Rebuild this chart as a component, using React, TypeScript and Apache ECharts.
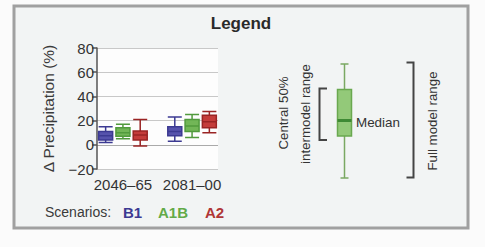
import React, { useEffect, useRef } from 'react';
import * as echarts from 'echarts';

const periods = ['2046–65', '2081–00'];
const scenarios = ['B1', 'A1B', 'A2'];
const scenarioColors = ['#5653ac', '#72b657', '#c43c3a'];
const scenarioBorders = ['#3c3a92', '#519a3d', '#9a2424'];
// [min, Q1, median, Q3, max] for B1, A1B, A2
const boxes2046 = [
  [2, 4, 7.5, 11, 15],
  [5, 7, 10, 14, 17],
  [-1, 4, 8, 11.5, 21],
];
const boxes2081 = [
  [3, 7.5, 11, 15, 23],
  [6, 11, 15.5, 21, 25],
  [10, 14, 19, 24.5, 27.5],
];
const yMin = -20;
const yMax = 80;
const yStep = 20;

const FONT = 'Arial, "Liberation Sans", sans-serif';

export default function App() {
  const ref = useRef<HTMLDivElement>(null);
  useEffect(() => {
    if (!ref.current) return;
    const chart = echarts.init(ref.current, null, { renderer: 'svg' });
    const groups = [boxes2046, boxes2081];
    const cats: string[] = [];
    const data: any[] = [];
    periods.forEach((p, pi) => {
      if (pi > 0) {
        cats.push('gap|');
        data.push({ value: ['-', '-', '-', '-', '-'] });
      }
      scenarios.forEach((s, si) => {
        cats.push(p + '|' + s);
        data.push({
          value: groups[pi][si],
          itemStyle: { color: scenarioColors[si], borderColor: scenarioBorders[si], borderWidth: 1.5 },
        });
      });
    });

    const txt = (text: string, x: number, y: number, extra: any = {}, style: any = {}) => ({
      type: 'text',
      x,
      y,
      ...extra,
      style: {
        text,
        fill: '#333',
        font: `13.3px ${FONT}`,
        align: 'center',
        verticalAlign: 'middle',
        ...style,
      },
    });
    const line = (x1: number, y1: number, x2: number, y2: number, stroke: string, w: number) => ({
      type: 'line',
      shape: { x1, y1, x2, y2 },
      style: { stroke, lineWidth: w },
    });

    const splitColors: string[] = [];
    for (let v = yMin; v <= yMax; v += yStep) splitColors.push(v === 0 ? '#aaaaaa' : '#c8c8c8');

    chart.setOption({
      animation: false,
      backgroundColor: '#fbfbfb',
      textStyle: { fontFamily: FONT },
      grid: {
        left: 97,
        right: 267,
        top: 48,
        bottom: 78,
        show: true,
        backgroundColor: '#fdfdfd',
        borderWidth: 0,
      },
      xAxis: {
        type: 'category',
        data: cats,
        axisLine: { show: false },
        axisTick: { show: false },
        splitLine: { show: false },
        axisLabel: {
          interval: 0,
          margin: 8,
          fontSize: 15,
          color: '#333',
          fontFamily: FONT,
          formatter: (v: string) => {
            const [p, s] = v.split('|');
            return s === scenarios[1] ? p : '';
          },
        },
      },
      yAxis: {
        type: 'value',
        min: yMin,
        max: yMax,
        interval: yStep,
        name: 'Δ Precipitation (%)',
        nameLocation: 'middle',
        nameGap: 41,
        nameTextStyle: { fontSize: 15.5, color: '#3a3a3a', fontFamily: FONT },
        axisLine: { show: true, lineStyle: { color: '#555', width: 1.5 } },
        axisTick: { show: true, length: 5, lineStyle: { color: '#555', width: 1.5 } },
        axisLabel: {
          fontSize: 15,
          color: '#333',
          margin: 3,
          fontFamily: FONT,
          formatter: (v: number) => (v < 0 ? '−' + Math.abs(v) : String(v)),
        },
        splitLine: { show: true, lineStyle: { color: splitColors, width: 1.2 } },
      },
      series: [
        {
          type: 'boxplot',
          boxWidth: [14, 14],
          data,
        },
      ],
      graphic: [
        {
          type: 'rect',
          z: -100,
          shape: { x: 14, y: 6, width: 454, height: 222 },
          style: { fill: '#f2f4f4', stroke: '#a0a0a0', lineWidth: 3 },
        },
        txt('Legend', 241, 23, {}, { font: `bold 17px ${FONT}`, fill: '#2a2a2a' }),
        txt('Scenarios:', 45, 212, {}, { align: 'left', font: `14px ${FONT}`, fill: '#3a3a3a' }),
        txt(scenarios[0], 123, 212, {}, { align: 'left', font: `bold 15px ${FONT}`, fill: scenarioBorders[0] }),
        txt(scenarios[1], 158, 212, {}, { align: 'left', font: `bold 15px ${FONT}`, fill: '#62aa48' }),
        txt(scenarios[2], 205, 212, {}, { align: 'left', font: `bold 15px ${FONT}`, fill: '#b03636' }),
        // legend diagram
        line(344.5, 64, 344.5, 178, '#7aa862', 1.5),
        line(340.5, 64, 348.5, 64, '#7aa862', 1.5),
        line(340.5, 178, 348.5, 178, '#7aa862', 1.5),
        {
          type: 'rect',
          shape: { x: 337.5, y: 89.5, width: 14, height: 46.5 },
          style: { fill: '#93c979', stroke: '#6aa84f', lineWidth: 1.5 },
        },
        line(337.5, 120.5, 351.5, 120.5, '#3f8a35', 3),
        txt('Median', 356, 122, {}, { align: 'left', font: `13.4px ${FONT}` }),
        {
          type: 'polyline',
          shape: { points: [[327, 88.5], [319.5, 88.5], [319.5, 140], [327, 140]] },
          style: { stroke: '#444', lineWidth: 2, fill: null },
        },
        {
          type: 'polyline',
          shape: { points: [[406.5, 62.5], [413.5, 62.5], [413.5, 177.5], [406.5, 177.5]] },
          style: { stroke: '#444', lineWidth: 2, fill: null },
        },
        txt('Central 50%', 283, 113, { rotation: Math.PI / 2 }),
        txt('intermodel range', 305, 114, { rotation: Math.PI / 2 }),
        txt('Full model range', 432, 121, { rotation: Math.PI / 2 }),
      ],
    });
    return () => chart.dispose();
  }, []);
  return (
    <div
      ref={ref}
      style={{ position: 'fixed', left: 0, top: 0, width: 485, height: 247 }}
    />
  );
}
